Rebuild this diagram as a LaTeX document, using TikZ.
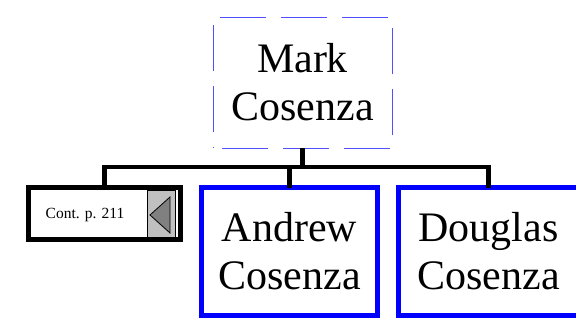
\documentclass[tikz,border=0pt]{standalone}
\usepackage{fontspec}
\setmainfont{Liberation Serif}
\begin{document}
\begin{tikzpicture}[x=1pt,y=-1pt,
  namebox/.style={draw=blue,line width=5pt,inner sep=0pt,outer sep=0pt,align=center,
    font=\fontsize{42}{48}\selectfont},
  topbox/.style={draw={rgb,255:red,80;green,80;blue,255},line width=1pt,inner sep=0pt,outer sep=0pt,
    dash pattern=on 46pt off 15pt,dash phase=-9pt,align=center,font=\fontsize{42}{48}\selectfont},
  contbox/.style={draw=black,line width=5pt,inner sep=0pt,outer sep=0pt},
  link/.style={draw=black,line width=4.5pt,line join=miter}]
\useasboundingbox (0,0) rectangle (576,324);
\coordinate (bar) at (300,167);
\node[topbox,minimum width=179pt,minimum height=131pt] (mark) at (302.5,82.5) {Mark\\Cosenza};
\node[contbox,minimum width=152pt,minimum height=52pt] (cont) at (104.5,213.5) {};
\node[font=\fontsize{15.5}{18}\selectfont,inner sep=0pt] (contlabel) at (85,215) {Cont. p. 211};
\node[draw=black,line width=0.5pt,fill={rgb,255:red,192;green,192;blue,192},minimum width=28pt,minimum height=47pt,inner sep=0pt] (arrowbox) at (161,213.5) {};
\coordinate (tip) at (150,215);
\coordinate (tb) at (170,197);
\coordinate (bb) at (170,233);
\draw[fill={rgb,255:red,128;green,128;blue,128},line width=0.8pt] (tip) -- (tb) -- (bb) -- cycle;
\node[namebox,minimum width=176pt,minimum height=128pt] (andrew) at (289.5,251.5) {Andrew\\Cosenza};
\node[namebox,minimum width=180pt,minimum height=128pt] (douglas) at (488.5,251.5) {Douglas\\Cosenza};
\draw[link] (cont.north) -- (cont.north |- bar) -- (douglas.north |- bar) -- (douglas.north);
\draw[link] (andrew.north) -- (andrew.north |- bar);
\draw[link] (mark.south) -- (mark.south |- bar);
\end{tikzpicture}
\end{document}
